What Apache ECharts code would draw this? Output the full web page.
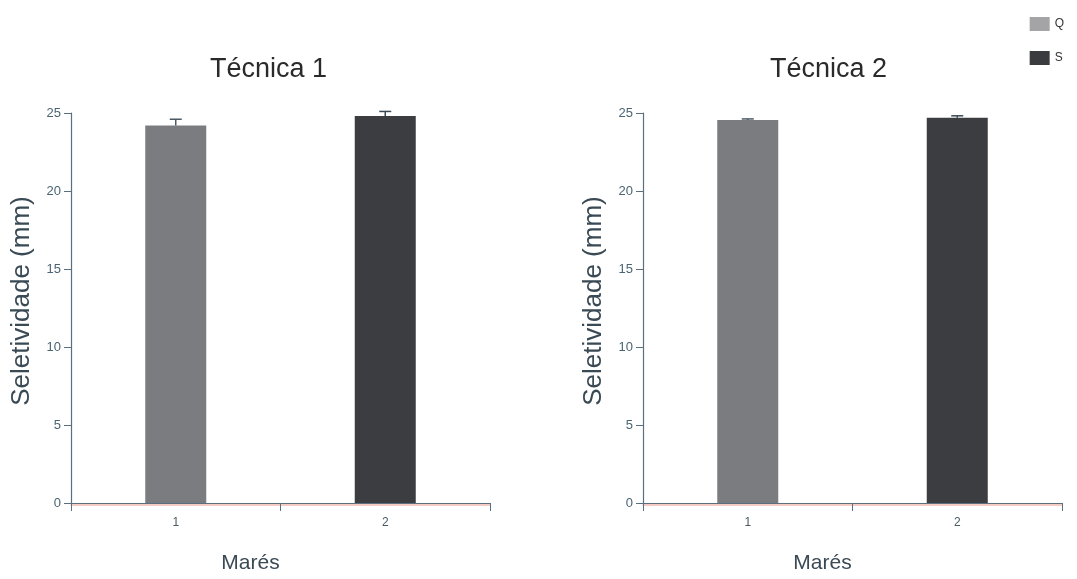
<!DOCTYPE html>
<html><head><meta charset="utf-8">
<script src="https://cdn.jsdelivr.net/npm/echarts@6/dist/echarts.min.js"></script>
<style>html,body{margin:0;padding:0;background:#fff}#c{width:1077px;height:579px}</style>
</head><body><div id="c"></div>
<script>
const categories = ['1', '2'];
const panelTitles = ['Técnica 1', 'Técnica 2'];
const seriesNames = ['Q', 'S'];
// [panel][category] mean values
const qValues = [24.2, 24.55];
const sValues = [24.8, 24.7];
// upper error bar ends
const qErrTop = [24.6, 24.62];
const sErrTop = [25.1, 24.82];
const yTicks = [0, 5, 10, 15, 20, 25];

const barColors = { Q: '#7b7c7f', S: '#3c3d40' };
const legendColors = { Q: '#a4a4a6', S: '#3a3b3e' };
const axisCol = '#587080';
const font = '"Liberation Sans", Arial, sans-serif';

const grids = [
  { left: 71, top: 113, width: 419, height: 392 },
  { left: 643, top: 113, width: 419, height: 392 }
];
const titleLeft = [205, 765];

const xAxes = [], yAxes = [], series = [], titles = [];
grids.forEach((g, i) => {
  titles.push({ text: panelTitles[i], left: titleLeft[i], top: 51,
    textStyle: { fontFamily: font, fontSize: 27, fontWeight: 'normal', color: '#2a2a2a' } });
  xAxes.push({ type: 'category', gridIndex: i, data: categories,
    name: 'Marés', nameLocation: 'middle', nameGap: 50,
    nameTextStyle: { fontFamily: font, fontSize: 21, color: '#3a4a55', padding: [0, 60, 0, 0] },
    axisLine: { lineStyle: { color: axisCol, width: 1.2, shadowColor: 'rgba(230,110,90,0.7)', shadowOffsetY: 1.5 } },
    axisTick: { show: true, alignWithLabel: false, length: 8, lineStyle: { color: axisCol } },
    axisLabel: { fontFamily: font, fontSize: 12, color: '#4a5a65', margin: 14 } });
  yAxes.push({ type: 'value', gridIndex: i, min: 0, max: 25, interval: 5,
    name: 'Seletividade (mm)', nameLocation: 'middle', nameGap: 36, nameRotate: 90,
    nameTextStyle: { fontFamily: font, fontSize: 26, color: '#3a4a55', padding: [0, 0, 0, 14] },
    axisLine: { show: true, lineStyle: { color: axisCol, width: 1.2 } },
    axisTick: { show: true, length: 7, lineStyle: { color: axisCol } },
    splitLine: { show: false },
    axisLabel: { fontFamily: font, fontSize: 13, color: '#4a6472', margin: 10,
      formatter: v => yTicks.includes(v) ? String(v) : '' } });
  series.push({ name: 'Q', type: 'bar', xAxisIndex: i, yAxisIndex: i, barWidth: 61, barGap: '-100%',
    data: [qValues[i], '-'], itemStyle: { color: barColors.Q } });
  series.push({ name: 'S', type: 'bar', xAxisIndex: i, yAxisIndex: i, barWidth: 61, barGap: '-100%',
    data: ['-', sValues[i]], itemStyle: { color: barColors.S } });
  const errData = [[0, qValues[i], qErrTop[i]], [1, sValues[i], sErrTop[i]]];
  series.push({ type: 'custom', xAxisIndex: i, yAxisIndex: i, z: 5, data: errData,
    renderItem: (params, api) => {
      const x = api.value(0);
      const p0 = api.coord([x, api.value(1)]);
      const p1 = api.coord([x, api.value(2)]);
      const col = x === 0 ? '#4a5a65' : '#3a4a55';
      return { type: 'group', children: [
        { type: 'line', shape: { x1: p0[0], y1: p0[1], x2: p1[0], y2: p1[1] }, style: { stroke: col, lineWidth: 1.5 } },
        { type: 'line', shape: { x1: p1[0] - 6, y1: p1[1], x2: p1[0] + 6, y2: p1[1] }, style: { stroke: col, lineWidth: 1.5 } }
      ] };
    } });
});

const chart = echarts.init(document.getElementById('c'), null, { renderer: 'canvas' });
chart.setOption({
  animation: false,
  title: titles,
  legend: { orient: 'vertical', right: 8, top: 12, itemWidth: 20, itemHeight: 14, itemGap: 20, icon: 'rect',
    textStyle: { fontFamily: font, fontSize: 12, color: '#333' },
    data: seriesNames.map(n => ({ name: n, itemStyle: { color: legendColors[n] } })) },
  grid: grids,
  xAxis: xAxes,
  yAxis: yAxes,
  series: series
});
</script></body></html>
